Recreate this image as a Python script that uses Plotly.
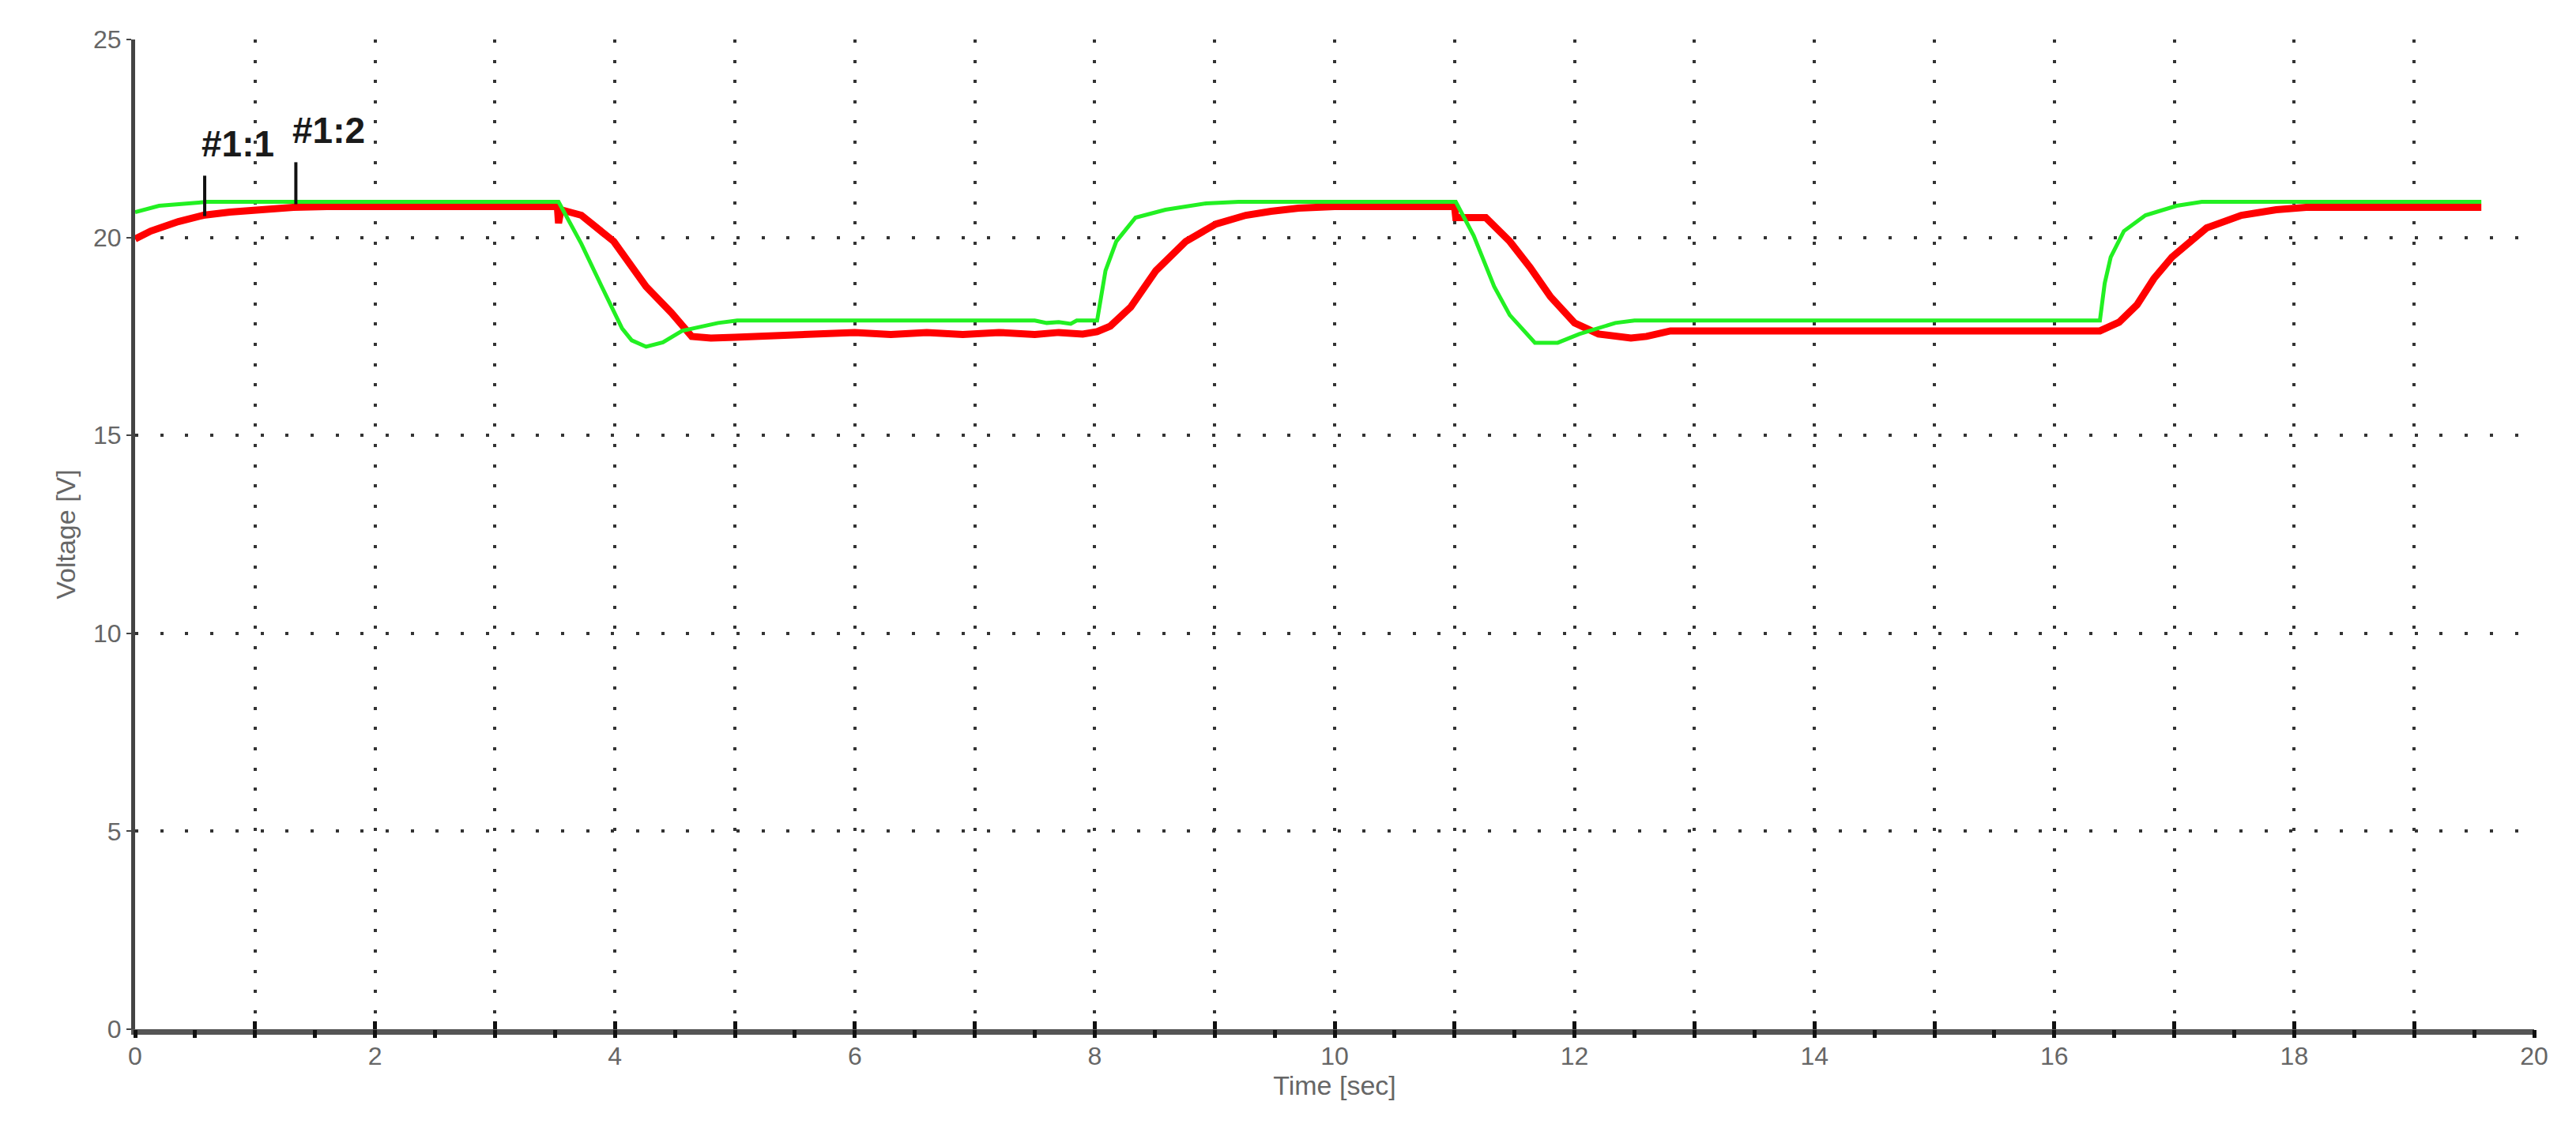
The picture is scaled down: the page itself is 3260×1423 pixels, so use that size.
import plotly.graph_objects as go

# measured voltage (#1:1, red)
t_red = [0, 0.13, 0.36, 0.57, 0.79, 1.05, 1.32, 1.6, 3.52, 3.53, 3.55, 3.72, 3.99, 4.26, 4.47,
         4.64, 4.8, 5.0, 5.2, 5.4, 5.6, 6.0, 6.3, 6.6, 6.9, 7.2, 7.5, 7.7, 7.9, 8.02,
         8.13, 8.3, 8.51, 8.76, 9.01, 9.26, 9.47, 9.7, 10.0, 11.0, 11.01, 11.26, 11.46,
         11.63, 11.8, 12.0, 12.2, 12.47, 12.6, 12.8, 16.38, 16.54, 16.69, 16.83, 16.98,
         17.27, 17.56, 17.85, 18.1, 19.56]
v_red = [19.96, 20.16, 20.4, 20.56, 20.64, 20.72, 20.76, 20.78, 20.78, 20.36, 20.7, 20.56, 19.9,
         18.76, 18.1, 17.5, 17.46, 17.48, 17.5, 17.52, 17.58, 17.6, 17.55, 17.6, 17.55,
         17.6, 17.55, 17.6, 17.56, 17.62,
         17.76, 18.24, 19.16, 19.9, 20.34, 20.56, 20.66, 20.74, 20.78, 20.78, 20.5, 20.5,
         19.9, 19.24, 18.5, 17.84, 17.56, 17.46, 17.5, 17.64, 17.64, 17.86, 18.3, 18.96,
         19.5, 20.24, 20.56, 20.7, 20.76, 20.76]

# simulated voltage (#1:2, green)
t_green = [0, 0.2, 0.53, 0.6, 3.53, 3.72, 3.89, 4.06, 4.14, 4.26, 4.4, 4.56, 4.86, 5.02,
           7.5, 7.6, 7.7, 7.8, 7.85, 8.02, 8.09, 8.18, 8.34, 8.59, 8.93, 9.2, 11.01,
           11.16, 11.33, 11.46, 11.67, 11.86, 12.04, 12.34, 12.5, 16.38, 16.42, 16.47,
           16.58, 16.76, 17.02, 17.23, 19.56]
v_green = [20.64, 20.8, 20.88, 20.9, 20.9, 19.84, 18.76, 17.7, 17.4, 17.24, 17.35, 17.64,
           17.84, 17.9, 17.9, 17.84, 17.86, 17.82, 17.9, 17.9, 19.16, 19.9, 20.5, 20.7,
           20.86, 20.9, 20.9, 20.04, 18.76, 18.04, 17.34, 17.34, 17.56, 17.84, 17.9, 17.9,
           18.84, 19.5, 20.16, 20.56, 20.8, 20.9, 20.9]

# cursor markers
cursor_names = ["#1:1", "#1:2"]
cursor_t = [0.58, 1.34]
cursor_lo = [20.54, 20.84]
cursor_hi = [21.56, 21.9]
label_y = [21.8, 22.15]

fig = go.Figure()
fig.add_trace(go.Scatter(x=t_red, y=v_red, mode="lines",
                         line=dict(color="#ff0000", width=9), name="#1:1"))
fig.add_trace(go.Scatter(x=t_green, y=v_green, mode="lines",
                         line=dict(color="#22f022", width=5), name="#1:2"))

for name, t, lo, hi, ly in zip(cursor_names, cursor_t, cursor_lo, cursor_hi, label_y):
    fig.add_trace(go.Scatter(x=[t, t], y=[lo, hi], mode="lines",
                             line=dict(color="#111111", width=4), showlegend=False))
    fig.add_annotation(x=t - 0.04, y=ly, text=name, showarrow=False, xanchor="left",
                       yanchor="bottom",
                       font=dict(family="Arial", size=46, color="#1a1a1a", weight="bold"))

# second x axis only for the downward half of the crossing ticks
fig.add_trace(go.Scatter(x=[0, 20], y=[None, None], xaxis="x2", showlegend=False,
                         hoverinfo="skip"))

grid_x = "4px,21.6px"
grid_y = "4px,27.7px"

fig.update_layout(
    width=3260, height=1423,
    paper_bgcolor="white", plot_bgcolor="white",
    showlegend=False,
    margin=dict(l=163, r=61, t=42, b=128),
    font=dict(family="Arial", size=32, color="#666666"),
    xaxis=dict(range=[0, 20], dtick=2, tick0=0, showgrid=True, gridcolor="#333333",
               gridwidth=4, griddash=grid_x, zeroline=False, automargin=False,
               showline=True, linecolor="#555555", linewidth=7,
               ticks="inside", ticklen=10, tickwidth=5, tickcolor="#111111",
               minor=dict(dtick=1, showgrid=True, gridcolor="#333333", gridwidth=4,
                          griddash=grid_x, ticks="inside", ticklen=10, tickwidth=5,
                          tickcolor="#111111"),
               title=dict(text="Time [sec]", font=dict(size=34, color="#666666"), standoff=6),
               tickfont=dict(size=32, color="#666666")),
    xaxis2=dict(range=[0, 20], overlaying="x", side="bottom", anchor="y",
                dtick=0.5, tick0=0, ticks="outside", ticklen=10, tickwidth=5,
                tickcolor="#111111", showticklabels=False, showgrid=False,
                zeroline=False, showline=False, automargin=False),
    yaxis=dict(range=[0, 25], dtick=5, showgrid=True, gridcolor="#333333", gridwidth=4,
               griddash=grid_y, zeroline=False, automargin=False,
               showline=True, linecolor="#444444", linewidth=5,
               ticks="outside", ticklen=6, tickwidth=2, tickcolor="#444444",
               title=dict(text="Voltage [V]", font=dict(size=34, color="#666666"), standoff=14),
               tickfont=dict(size=32, color="#666666")),
)

fig.write_html("out.html")
